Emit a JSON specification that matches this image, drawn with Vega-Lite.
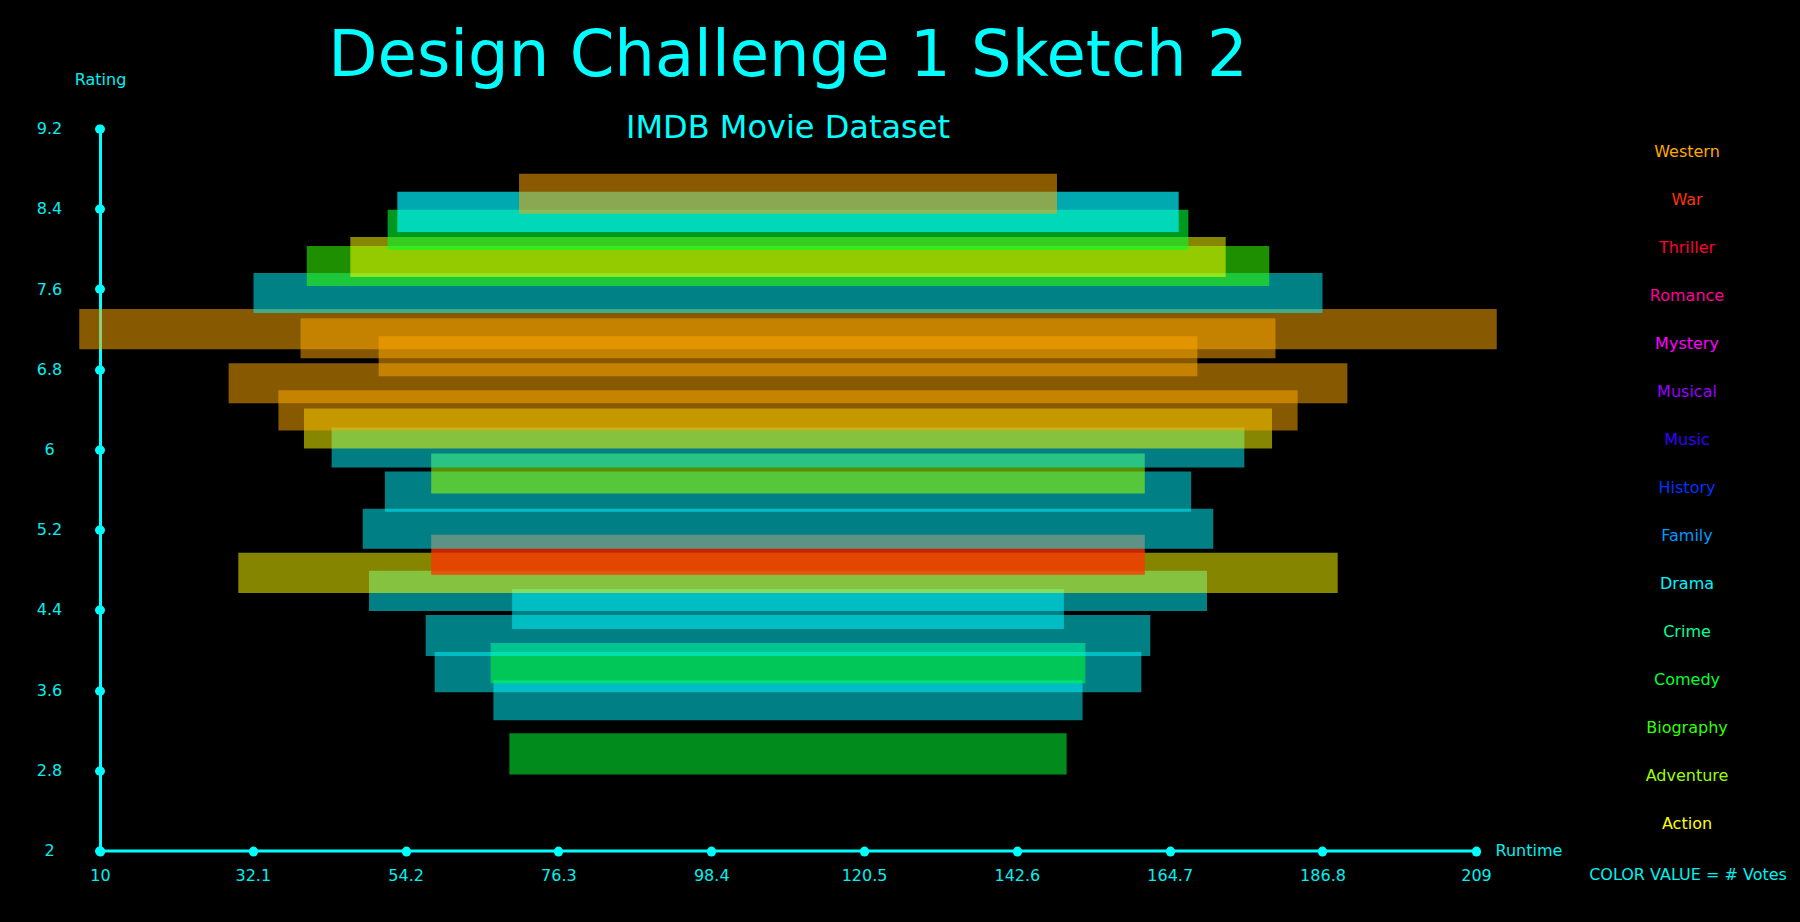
{
  "$schema": "https://vega.github.io/schema/vega-lite/v6.json",
  "width": 1376,
  "height": 722,
  "autosize": {"type": "none"},
  "padding": {"left": 100, "top": 128.6, "right": 324, "bottom": 71.4},
  "background": "#000000",
  "title": {
    "text": "Design Challenge 1 Sketch 2",
    "subtitle": "IMDB Movie Dataset",
    "anchor": "middle",
    "frame": "group",
    "orient": "top",
    "offset": -72,
    "font": "DejaVu Sans",
    "subtitleFont": "DejaVu Sans",
    "fontSize": 64,
    "subtitleFontSize": 32,
    "fontWeight": "normal",
    "color": "#00FFFF",
    "subtitleColor": "#00FFFF",
    "subtitlePadding": 24
  },
  "config": {"view": {"stroke": null}, "font": "DejaVu Sans"},
  "data": {
    "values": [
      {"genre": "Comedy", "runtime_lo": 69.2, "runtime_hi": 149.8, "rating_lo": 2.76, "rating_hi": 3.17, "votes": 290000},
      {"genre": "Drama", "runtime_lo": 66.9, "runtime_hi": 152.1, "rating_lo": 3.30, "rating_hi": 3.70, "votes": 225000},
      {"genre": "Drama", "runtime_lo": 58.4, "runtime_hi": 160.6, "rating_lo": 3.58, "rating_hi": 3.98, "votes": 230000},
      {"genre": "Comedy", "runtime_lo": 66.5, "runtime_hi": 152.5, "rating_lo": 3.67, "rating_hi": 4.07, "votes": 320000},
      {"genre": "Drama", "runtime_lo": 57.1, "runtime_hi": 161.9, "rating_lo": 3.94, "rating_hi": 4.35, "votes": 230000},
      {"genre": "Drama", "runtime_lo": 69.6, "runtime_hi": 149.4, "rating_lo": 4.21, "rating_hi": 4.61, "votes": 235000},
      {"genre": "Drama", "runtime_lo": 48.9, "runtime_hi": 170.1, "rating_lo": 4.39, "rating_hi": 4.79, "votes": 225000},
      {"genre": "Action", "runtime_lo": 30.0, "runtime_hi": 189.0, "rating_lo": 4.57, "rating_hi": 4.97, "votes": 230000},
      {"genre": "War", "runtime_lo": 57.9, "runtime_hi": 161.1, "rating_lo": 4.75, "rating_hi": 5.15, "votes": 800000},
      {"genre": "Drama", "runtime_lo": 48.0, "runtime_hi": 171.0, "rating_lo": 5.01, "rating_hi": 5.41, "votes": 230000},
      {"genre": "Drama", "runtime_lo": 51.2, "runtime_hi": 167.8, "rating_lo": 5.38, "rating_hi": 5.78, "votes": 230000},
      {"genre": "Adventure", "runtime_lo": 57.9, "runtime_hi": 161.1, "rating_lo": 5.56, "rating_hi": 5.96, "votes": 320000},
      {"genre": "Drama", "runtime_lo": 43.5, "runtime_hi": 175.5, "rating_lo": 5.82, "rating_hi": 6.22, "votes": 210000},
      {"genre": "Action", "runtime_lo": 39.5, "runtime_hi": 179.5, "rating_lo": 6.01, "rating_hi": 6.41, "votes": 240000},
      {"genre": "Western", "runtime_lo": 35.8, "runtime_hi": 183.2, "rating_lo": 6.19, "rating_hi": 6.59, "votes": 250000},
      {"genre": "Western", "runtime_lo": 28.6, "runtime_hi": 190.4, "rating_lo": 6.46, "rating_hi": 6.86, "votes": 250000},
      {"genre": "Western", "runtime_lo": 50.3, "runtime_hi": 168.7, "rating_lo": 6.73, "rating_hi": 7.13, "votes": 220000},
      {"genre": "Western", "runtime_lo": 39.0, "runtime_hi": 180.0, "rating_lo": 6.91, "rating_hi": 7.31, "votes": 220000},
      {"genre": "Western", "runtime_lo": 7.0, "runtime_hi": 212.0, "rating_lo": 7.00, "rating_hi": 7.40, "votes": 250000},
      {"genre": "Drama", "runtime_lo": 32.2, "runtime_hi": 186.8, "rating_lo": 7.36, "rating_hi": 7.76, "votes": 240000},
      {"genre": "Biography", "runtime_lo": 39.9, "runtime_hi": 179.1, "rating_lo": 7.63, "rating_hi": 8.03, "votes": 320000},
      {"genre": "Action", "runtime_lo": 46.2, "runtime_hi": 172.8, "rating_lo": 7.72, "rating_hi": 8.12, "votes": 240000},
      {"genre": "Comedy", "runtime_lo": 51.6, "runtime_hi": 167.4, "rating_lo": 7.99, "rating_hi": 8.39, "votes": 400000},
      {"genre": "Drama", "runtime_lo": 53.0, "runtime_hi": 166.0, "rating_lo": 8.17, "rating_hi": 8.57, "votes": 620000},
      {"genre": "Western", "runtime_lo": 70.6, "runtime_hi": 148.4, "rating_lo": 8.35, "rating_hi": 8.75, "votes": 270000}
    ]
  },
  "mark": {"type": "rect", "clip": false},
  "encoding": {
    "x": {
      "field": "runtime_lo",
      "type": "quantitative",
      "scale": {"domain": [10, 209], "nice": false, "zero": false},
      "axis": {
        "title": "Runtime",
        "values": [10, 32.1, 54.2, 76.3, 98.4, 120.5, 142.6, 164.7, 186.8, 209],
        "format": ".1~f",
        "grid": false,
        "domainColor": "#00FFFF",
        "domainWidth": 3,
        "tickColor": "#00FFFF",
        "tickWidth": 9,
        "tickSize": 1,
        "tickCap": "round",
        "labelColor": "#00F0F0",
        "labelFont": "DejaVu Sans",
        "labelFontSize": 16,
        "labelBaseline": "middle",
        "labelPadding": 24,
        "labelFlush": false,
        "labelOverlap": false,
        "titleColor": "#00F0F0",
        "titleFont": "DejaVu Sans",
        "titleFontSize": 16,
        "titleFontWeight": "normal",
        "titleX": 1395,
        "titleY": 0,
        "titleAlign": "left",
        "titleBaseline": "middle"
      }
    },
    "x2": {"field": "runtime_hi"},
    "y": {
      "field": "rating_lo",
      "type": "quantitative",
      "scale": {"domain": [2, 9.2], "nice": false, "zero": false},
      "axis": {
        "title": "Rating",
        "values": [2, 2.8, 3.6, 4.4, 5.2, 6, 6.8, 7.6, 8.4, 9.2],
        "format": ".1~f",
        "grid": false,
        "domainColor": "#00FFFF",
        "domainWidth": 3,
        "tickColor": "#00FFFF",
        "tickWidth": 9,
        "tickSize": 1,
        "tickCap": "round",
        "labelColor": "#00F0F0",
        "labelFont": "DejaVu Sans",
        "labelFontSize": 16,
        "labelAlign": "center",
        "labelBaseline": "middle",
        "labelPadding": 50,
        "labelFlush": false,
        "labelOverlap": false,
        "titleColor": "#00F0F0",
        "titleFont": "DejaVu Sans",
        "titleFontSize": 16,
        "titleFontWeight": "normal",
        "titleAngle": 0,
        "titleX": 0,
        "titleY": -49,
        "titleAlign": "center",
        "titleBaseline": "middle"
      }
    },
    "y2": {"field": "rating_hi"},
    "color": {
      "field": "genre",
      "type": "nominal",
      "scale": {
        "domain": ["Western", "War", "Thriller", "Romance", "Mystery", "Musical", "Music", "History", "Family", "Drama", "Crime", "Comedy", "Biography", "Adventure", "Action"],
        "range": ["#FFA800", "#FF3300", "#FF0033", "#FF0099", "#FF00FF", "#9900FF", "#3300FF", "#0033FF", "#0099FF", "#00F5FF", "#00FF99", "#00FF33", "#33FF00", "#99FF00", "#FFFF00"]
      },
      "legend": {
        "orient": "none",
        "legendX": 1489,
        "legendY": 15,
        "padding": 0,
        "title": "COLOR VALUE = # Votes",
        "titleOrient": "bottom",
        "titleAnchor": "middle",
        "titleAlign": "center",
        "titleColor": "#00F0F0",
        "titleFont": "DejaVu Sans",
        "titleFontSize": 16,
        "titleFontWeight": "normal",
        "titlePadding": 35,
        "titleLimit": 400,
        "symbolSize": 0,
        "symbolOpacity": 0,
        "symbolStrokeWidth": 0,
        "labelFont": "DejaVu Sans",
        "labelFontSize": 16,
        "labelAlign": "center",
        "labelOffset": 24,
        "labelLimit": 300,
        "rowPadding": 32,
        "encode": {"labels": {"update": {"fill": {"scale": "color", "field": "value"}}}}
      }
    },
    "opacity": {
      "field": "votes",
      "type": "quantitative",
      "scale": {"domain": [0, 800000], "range": [0.42, 0.77]},
      "legend": null
    }
  }
}
